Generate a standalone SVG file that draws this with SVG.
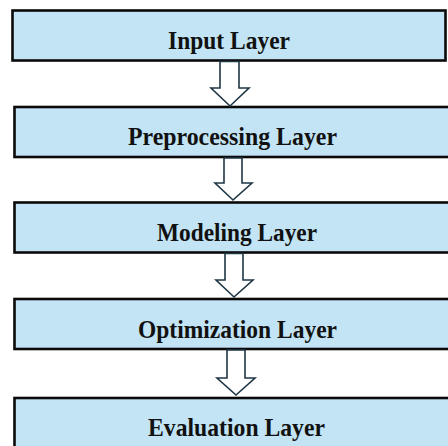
<svg xmlns="http://www.w3.org/2000/svg" width="448" height="446" viewBox="0 0 448 446">
  <style>
    .box { fill: #c2e4f4; stroke: #0a0a0a; stroke-width: 2.6; }
    .label { font-family: "Liberation Serif", "Times New Roman", serif; font-weight: bold; font-size: 25.5px; fill: #111; text-anchor: middle; }
    .arrow { fill: #ffffff; stroke: #1e3645; stroke-width: 1.6; stroke-linejoin: miter; }
  </style>
  <rect width="448" height="446" fill="#ffffff"/>

  <g id="input-layer">
    <rect class="box" x="12.5" y="10.5" width="433" height="50"/>
    <text class="label" x="229" y="49" textLength="122" lengthAdjust="spacingAndGlyphs">Input Layer</text>
  </g>

  <g id="preprocessing-layer">
    <rect class="box" x="14.5" y="107" width="440" height="50"/>
    <text class="label" x="232.5" y="145" textLength="209" lengthAdjust="spacingAndGlyphs">Preprocessing Layer</text>
  </g>

  <g id="modeling-layer">
    <rect class="box" x="14.5" y="202.5" width="440" height="50"/>
    <text class="label" x="237" y="240.5" textLength="160" lengthAdjust="spacingAndGlyphs">Modeling Layer</text>
  </g>

  <g id="optimization-layer">
    <rect class="box" x="14.5" y="299" width="440" height="50"/>
    <text class="label" x="237.5" y="338" textLength="199" lengthAdjust="spacingAndGlyphs">Optimization Layer</text>
  </g>

  <g id="evaluation-layer">
    <rect class="box" x="14.5" y="398" width="440" height="60"/>
    <text class="label" x="236.5" y="436" textLength="177" lengthAdjust="spacingAndGlyphs">Evaluation Layer</text>
  </g>

  <g id="connectors">
    <polygon class="arrow" points="220,61.5 239,61.5 239,88 249,88 230,106 211,88 220,88"/>
    <polygon class="arrow" points="224,158 242,158 242,183 252,183 233,200 215,183 224,183"/>
    <polygon class="arrow" points="225,253.5 243,253.5 243,280 253,280 234,297 216,280 225,280"/>
    <polygon class="arrow" points="227,350 245,350 245,378 255,378 236,395 217,378 227,378"/>
  </g>
</svg>
